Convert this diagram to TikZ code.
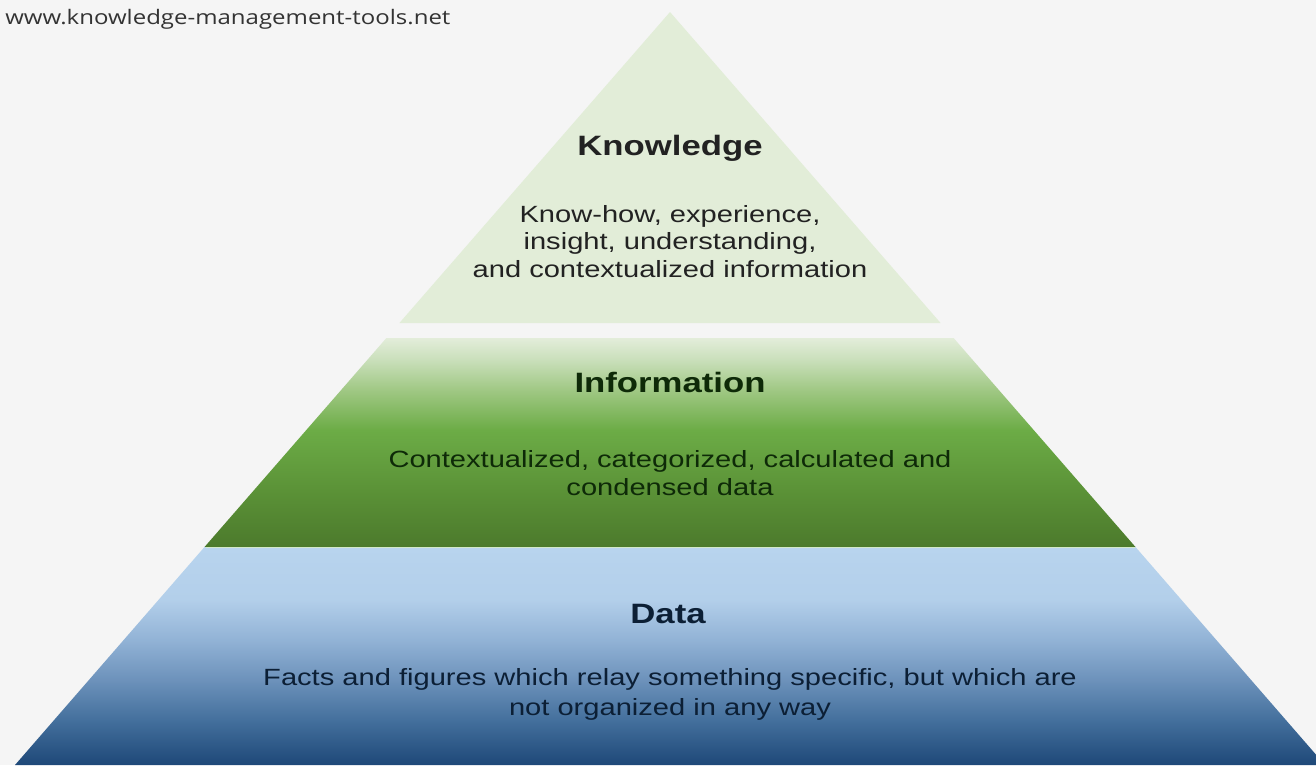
\documentclass[tikz,border=0pt]{standalone}
\usepackage{fontspec}
\setmainfont{Liberation Sans}
\newfontfamily\widefont[FakeStretch=1.24]{Liberation Sans}
\newfontfamily\sitefont[FakeStretch=1.2]{Open Sans}

\definecolor{bgcol}{HTML}{F5F5F5}
\definecolor{knowfill}{HTML}{E2EDD8}
\definecolor{seamcol}{HTML}{D2E8C8}
\definecolor{knowtext}{HTML}{222222}
\definecolor{infotext}{HTML}{0E2A08}
\definecolor{datatext}{HTML}{0C1F35}
\definecolor{sitetext}{HTML}{333333}
% green layer, bottom to top
\definecolor{infoA}{HTML}{4C7A2C}
\definecolor{infoB}{HTML}{5B9237}
\definecolor{infoC}{HTML}{6CAC46}
\definecolor{infoD}{HTML}{A0C884}
\definecolor{infoE}{HTML}{C9DFBA}
\definecolor{infoF}{HTML}{E3EDDA}
% blue layer, bottom to top
\definecolor{dataA}{HTML}{1E4878}
\definecolor{dataB}{HTML}{44709D}
\definecolor{dataC}{HTML}{6D92BB}
\definecolor{dataD}{HTML}{92B3D6}
\definecolor{dataE}{HTML}{B3CFEA}
\definecolor{dataF}{HTML}{B8D4EE}

\pgfdeclareverticalshading{infoshade}{100bp}{color(0bp)=(infoA); color(25bp)=(infoA);
  color(38.6bp)=(infoB); color(53bp)=(infoC); color(62.6bp)=(infoD);
  color(69.7bp)=(infoE); color(75bp)=(infoF); color(100bp)=(infoF)}
\pgfdeclareverticalshading{datashade}{100bp}{color(0bp)=(dataA); color(25bp)=(dataA);
  color(35.4bp)=(dataB); color(44.6bp)=(dataC); color(53.8bp)=(dataD);
  color(63bp)=(dataE); color(75bp)=(dataF); color(100bp)=(dataF)}

\begin{document}
\begin{tikzpicture}[x=0.75pt, y=0.75pt,
  title/.style = {font=\widefont\bfseries\fontsize{21}{25}\selectfont, anchor=base, inner sep=0pt},
  body/.style = {font=\widefont\fontsize{17.6}{#1}\selectfont, align=center, anchor=base, inner sep=0pt}]
\fill[bgcol] (0,0) rectangle (1316,-765);
\useasboundingbox (0,0) rectangle (1316,-765);

% layers
\fill[knowfill] (670,-12) -- (940.6,-323) -- (399.4,-323) -- cycle;
\shade[shading=infoshade] (386.4,-338) -- (953.6,-338) -- (1135.5,-547) -- (204.5,-547) -- cycle;
\shade[shading=datashade] (204.5,-547) -- (1135.5,-547) -- (1325,-765) -- (15,-765) -- cycle;
\coordinate (seamL) at (205.5,-547.5);
\coordinate (seamR) at (1134.5,-547.5);
\draw[seamcol, line width=1.2pt] (seamL) -- (seamR);

% texts (body nodes sit on their last line)
\node[title, text=knowtext] (know) at (670,-155) {Knowledge};
\node[body=20.3, text=knowtext] (knowbody) at (670,-277) {Know-how, experience,\\insight, understanding,\\and contextualized information};

\node[title, text=infotext] (info) at (670,-392) {Information};
\node[body=21, text=infotext] (infobody) at (670,-495) {Contextualized, categorized, calculated and\\condensed data};

\node[title, text=datatext] (data) at (668,-623) {Data};
\node[body=22.5, text=datatext] (databody) at (670,-715) {Facts and figures which relay something specific, but which are\\not organized in any way};

\node[font=\sitefont\fontsize{15}{17}\selectfont, text=sitetext, anchor=base west, inner sep=0pt] (site) at (5,-24) {www.knowledge-management-tools.net};
\end{tikzpicture}
\end{document}
